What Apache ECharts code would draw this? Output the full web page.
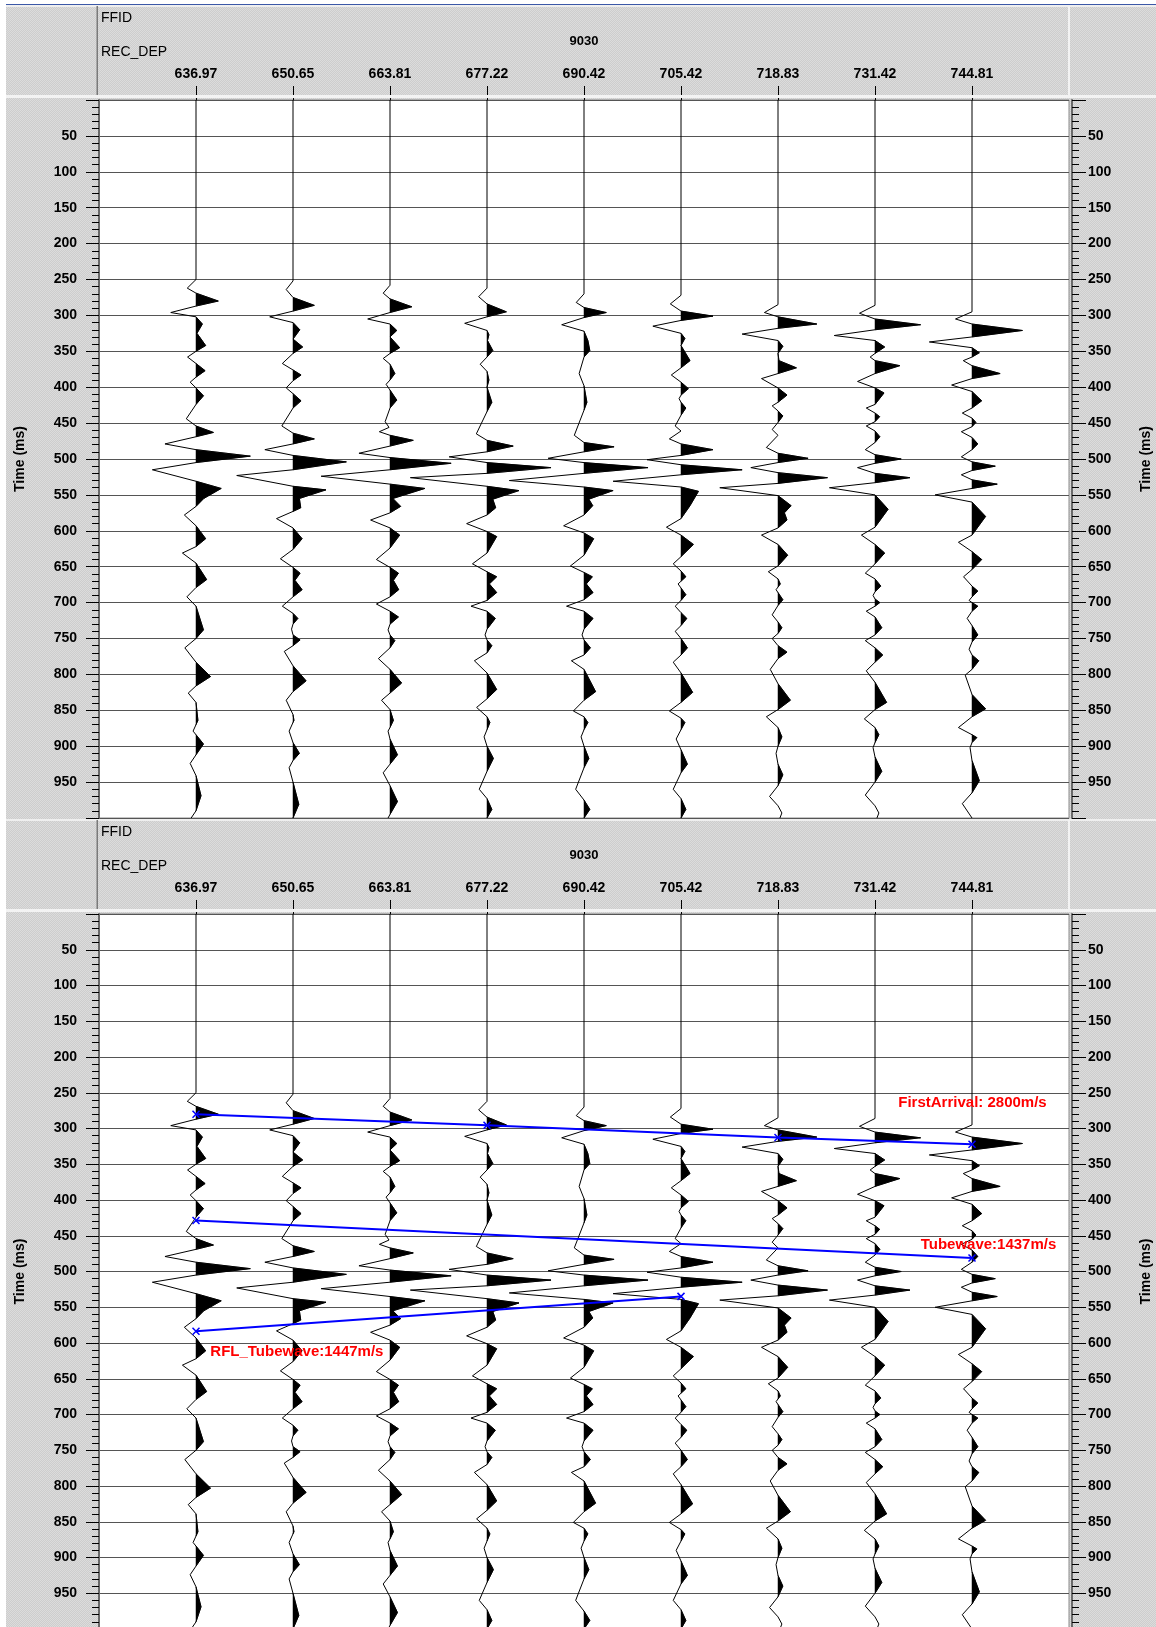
<!DOCTYPE html>
<html><head><meta charset="utf-8">
<script src="https://cdn.jsdelivr.net/npm/echarts@6/dist/echarts.min.js"></script>
<style>
html,body{margin:0;padding:0;background:#fff;}
#wrap{position:relative;width:1156px;height:1627px;overflow:hidden;background:#fff;}
#bg{position:absolute;left:6px;top:6px;right:0;bottom:0;background-color:#d5d5d5;background-image:repeating-conic-gradient(#cdcdcd 0 25%, #dcdcdc 0 50%);background-size:2px 2px;}
#chart{position:absolute;left:0;top:0;width:1156px;height:1627px;}
</style></head><body>
<div id="wrap"><div id="bg"></div><div id="chart"></div></div>
<script>
// ---------- DATA ----------
const ffidValue = '9030';
const headerNames = ['FFID', 'REC_DEP'];
const recDepth = ['636.97', '650.65', '663.81', '677.22', '690.42', '705.42', '718.83', '731.42', '744.81'];
const timeTicks = [50, 100, 150, 200, 250, 300, 350, 400, 450, 500, 550, 600, 650, 700, 750, 800, 850, 900, 950];

// traces: [time ms, amplitude in trace-spacing units]
const trace1 = [[0,0],[250,0],[262,-0.09],[269,0],[280,0.23],[287,0],[296,-0.26],[302,0],[312,0.066],[325,0.01],[342,0.1],[350,0],[358,-0.087],[367,0],[377,0.094],[386,0],[393,-0.06],[401,0],[412,0.077],[424,0],[444,-0.10],[454,0],[463,0.18],[469,0],[479,-0.32],[487,0],[496,0.56],[505,0],[515,-0.45],[531,0],[541,0.26],[555,0.08],[566,0],[578,-0.12],[593,0],[611,0.1],[622,0],[631,-0.14],[645,0],[668,0.11],[679,0],[692,-0.094],[705,0],[738,0.077],[750,0],[763,-0.115],[783,0],[803,0.15],[816,0],[826,-0.08],[839,0],[864,0.02],[879,-0.03],[897,0.077],[912,0],[924,-0.06],[941,0],[969,0.052],[990,0],[1000,-0.05]];
const trace2 = [[0,0],[252,0],[264,-0.07],[275,0],[286,0.22],[294,0],[302,-0.24],[310,0],[320,0.07],[333,0],[344,0.1],[353,0],[367,-0.11],[376,0],[383,0.083],[391,0],[401,-0.07],[409,0],[419,0.083],[429,0],[454,-0.115],[464,0],[472,0.22],[479,0],[487,-0.29],[495,0],[504,0.55],[515,0],[523,-0.58],[538,0],[543,0.34],[555,0.066],[568,0.08],[573,0],[583,-0.17],[596,0],[611,0.094],[626,0],[639,-0.13],[651,0],[659,0.073],[669,0.02],[682,0.094],[692,0],[705,-0.11],[715,0],[722,0.05],[730,0],[737,-0.015],[745,0],[752,0.073],[760,0],[768,-0.09],[788,0],[809,0.135],[824,0],[836,-0.07],[856,0],[864,0.01],[879,-0.04],[895,0],[910,0.066],[920,0],[930,-0.04],[950,0],[981,0.06],[1000,0]];
const trace3 = [[0,0],[258,0],[269,-0.07],[277,0],[288,0.225],[296,0],[305,-0.23],[312,0],[321,0.07],[330,0],[345,0.1],[353,0],[360,-0.07],[368,0],[381,0.05],[390,0],[396,-0.04],[404,0],[418,0.07],[429,0],[448,-0.05],[456,-0.01],[462,-0.11],[467,0],[474,0.24],[482,0],[492,-0.32],[498,0],[506,0.63],[515,0],[524,-0.71],[535,0],[541,0.36],[555,0.03],[566,0.11],[575,0],[585,-0.2],[596,0],[606,0.1],[624,0],[640,-0.14],[651,0],[659,0.087],[669,0.035],[682,0.09],[692,0],[702,-0.14],[712,0],[720,0.087],[730,0],[738,-0.02],[745,0],[753,0.05],[763,0],[778,-0.12],[793,0],[812,0.12],[826,0],[836,-0.087],[849,0],[864,0.035],[874,0],[879,-0.02],[890,0],[912,0.077],[925,0],[937,-0.07],[955,0],[977,0.077],[995,0],[1000,-0.02]];
const trace4 = [[0,0],[262,0],[274,-0.086],[284,0],[295,0.2],[302,0],[311,-0.23],[321,0],[327,0.02],[335,0.005],[349,0.06],[358,0],[368,-0.07],[378,0],[390,0.02],[400,0],[421,0.05],[434,0],[465,-0.11],[474,0],[482,0.27],[490,0],[497,-0.39],[505,0],[512,0.66],[520,0],[526,-0.79],[538,0],[544,0.33],[556,0.06],[568,0.09],[578,0],[590,-0.21],[601,0],[608,0.1],[631,0],[646,-0.15],[657,0],[664,0.1],[674,0.024],[686,0.1],[697,0],[705,-0.165],[712,0],[722,0.086],[737,0],[745,-0.02],[752,0],[760,0.05],[770,0],[781,-0.13],[798,0],[821,0.1],[834,0],[846,-0.107],[859,0],[867,0.03],[877,0],[887,-0.03],[900,0],[917,0.066],[935,0],[960,-0.08],[973,0],[988,0.05],[1000,0]];
const trace5 = [[0,0],[270,0],[282,-0.08],[289,0],[296,0.23],[303,0],[313,-0.23],[322,0],[335,0.04],[349,0.06],[358,0],[381,-0.05],[398,0],[421,0.03],[432,0],[467,-0.1],[477,0],[483,0.31],[490,0],[499,-0.37],[505,0],[512,0.66],[520,0],[530,-0.77],[539,0],[544,0.3],[556,0.05],[565,0.09],[578,0],[593,-0.21],[603,0],[611,0.1],[634,0],[649,-0.14],[658,0],[664,0.086],[674,0.024],[686,0.093],[696,0],[705,-0.18],[712,0],[722,0.093],[737,0],[745,-0.02],[752,0],[763,0.066],[773,0],[781,-0.13],[793,0],[824,0.12],[836,0],[851,-0.11],[859,0],[867,0.04],[877,0],[887,-0.03],[900,0],[917,0.05],[930,0],[960,-0.086],[975,0],[988,0.06],[1000,0]];
const trace6 = [[0,0],[272,0],[284,-0.11],[294,0],[301,0.33],[307,0],[315,-0.29],[325,0],[332,0.04],[342,0],[363,0.093],[373,0],[383,-0.1],[393,0],[402,0.076],[411,0],[416,-0.02],[421,0],[429,0.05],[439,0],[454,-0.06],[461,0],[472,-0.12],[479,0],[487,0.33],[495,0],[501,-0.35],[508,0],[515,0.63],[522,0],[531,-0.7],[539,0],[545,0.18],[565,0.093],[583,0],[595,-0.15],[606,0],[619,0.128],[636,0],[646,-0.08],[656,0],[664,0.05],[674,-0.03],[689,0.05],[697,0],[705,-0.06],[714,0],[722,0.06],[732,0],[740,-0.06],[750,0],[763,0.066],[773,0],[783,-0.08],[798,0],[825,0.12],[839,0],[851,-0.12],[861,0],[867,0.04],[877,0],[890,-0.05],[905,0],[925,0.066],[937,0],[960,-0.08],[973,0],[988,0.05],[1000,0]];
const trace7 = [[0,0],[285,0],[296,-0.14],[302,0],[312,0.40],[318,0],[326,-0.37],[335,0],[343,0.05],[353,0],[363,0.01],[373,0.19],[381,0],[388,-0.17],[401,0],[411,0.093],[421,0],[426,-0.06],[433,0],[440,0.05],[449,0],[459,-0.06],[467,0],[484,-0.12],[492,0],[499,0.31],[505,0],[512,-0.28],[519,0],[526,0.51],[534,0],[540,-0.6],[551,0],[565,0.135],[575,0.066],[585,0.093],[596,0],[606,-0.17],[619,0],[634,0.1],[649,0],[657,-0.1],[667,0],[674,0.024],[682,-0.02],[696,0.05],[704,0],[717,-0.06],[727,0],[735,0.04],[743,0],[750,-0.06],[760,0],[769,0.093],[778,0],[793,-0.08],[813,0],[836,0.128],[849,0],[859,-0.12],[874,0],[887,0.04],[900,0],[910,-0.02],[925,0],[940,0.05],[955,0],[970,-0.087],[983,0],[993,0.04],[1000,0.02]];
const trace8 = [[0,0],[286,0],[297,-0.16],[305,0],[313,0.47],[320,0],[328,-0.42],[335,0],[344,0.1],[353,0],[358,-0.05],[363,0],[370,0.256],[381,0],[392,-0.18],[401,0],[408,0.093],[424,0],[429,-0.09],[436,0],[441,0.048],[448,0],[454,-0.09],[461,0],[469,0.05],[477,0],[487,-0.1],[494,0],[500,0.27],[506,0],[512,-0.18],[520,0],[526,0.36],[533,0],[540,-0.47],[550,0],[570,0.135],[595,0],[606,-0.14],[619,0],[631,0.1],[646,0],[659,-0.1],[667,0],[677,0.06],[685,0],[690,-0.02],[695,0],[700,0.05],[705,0],[712,-0.09],[720,0],[735,0.07],[745,0],[753,-0.1],[763,0],[773,0.08],[783,0],[795,-0.09],[811,0],[839,0.12],[849,0],[862,-0.11],[874,0],[884,0.04],[895,0],[902,-0.02],[915,0],[935,0.07],[950,0],[968,-0.1],[983,0],[993,0.04],[1000,0.02]];
const trace9 = [[0,0],[295,0],[305,-0.17],[312,0],[321,0.52],[330,0],[337,-0.44],[345,0],[352,0.076],[358,0],[363,-0.09],[370,0],[381,0.29],[388,0],[397,-0.21],[406,0],[419,0.1],[429,0],[436,-0.1],[443,0],[449,0.04],[455,0],[462,-0.11],[470,0],[479,0.06],[487,0],[497,-0.11],[504,0],[510,0.24],[516,0],[522,-0.11],[529,0],[535,0.26],[541,0],[550,-0.38],[560,0],[580,0.14],[606,0],[616,-0.14],[629,0],[640,0.1],[654,0],[664,-0.087],[677,0],[684,0.06],[692,0],[697,-0.03],[700,0],[705,0.06],[712,0],[722,-0.05],[732,0],[745,0.06],[755,0],[765,-0.03],[773,0],[781,0.07],[793,0],[801,-0.07],[828,0],[848,0.14],[859,0],[874,-0.14],[884,0],[888,0.05],[895,0],[902,-0.02],[920,0],[948,0.076],[965,0],[980,-0.1],[1000,0]];

// picks (trace position, time ms) for the lower panel
const firstArrival = [[1, 280], [4, 295.5], [7, 312.5], [9, 322]];
const tubewave = [[1, 428.6], [9, 481]];
const rflTubewave = [[1, 583.5], [6, 534.8]];
const pickLabels = ['FirstArrival: 2800m/s', 'Tubewave:1437m/s', 'RFL_Tubewave:1447m/s'];
const pickLabelAnchors = [[9.005, 264], [9.17, 463], [2.04, 612]];

// ---------- CHART ----------
const traces = [trace1, trace2, trace3, trace4, trace5, trace6, trace7, trace8, trace9];
const FONT = '"Liberation Sans", Arial, Helvetica, sans-serif';
const gridTops = [100, 914];
const gridHeights = [718, 715];
const GL = 99, GW = 970;

function renderTrace(params, api) {
  const pos = api.value(0);
  const pts = traces[pos - 1];
  const line = [];
  const children = [];
  let lobe = null;
  for (let k = 0; k < pts.length; k++) {
    const t = pts[k][0], a = pts[k][1];
    const p = api.coord([pos + a, t]);
    line.push(p);
    if (k > 0) {
      const t0 = pts[k - 1][0], a0 = pts[k - 1][1];
      if (a0 <= 0 && a > 0) {
        const tc = t0 + (t - t0) * (0 - a0) / (a - a0);
        lobe = [api.coord([pos, tc])];
      }
      if (a > 0 && lobe) lobe.push(p);
      if (a0 > 0 && a <= 0 && lobe) {
        const tc2 = t0 + (t - t0) * a0 / (a0 - a);
        lobe.push(api.coord([pos, tc2]));
        children.push({type: 'polygon', shape: {points: lobe}, style: {fill: '#000', stroke: '#000', lineWidth: 0.5}});
        lobe = null;
      }
    }
  }
  children.push({type: 'polyline', shape: {points: line}, style: {stroke: '#000', lineWidth: 1, fill: null}});
  return {type: 'group', children: children};
}

const depthCats = [''].concat(recDepth, ['']);

function xVal(g) {
  return {type: 'value', gridIndex: g, min: 0, max: 10, show: false};
}
function xCat(g) {
  return {
    type: 'category', gridIndex: g, position: 'top', offset: 7, data: depthCats, boundaryGap: false,
    axisLine: {show: false},
    axisTick: {show: true, length: 14, interval: function (i, v) { return v !== ''; }, lineStyle: {color: '#000', width: 1}},
    axisLabel: {show: true, interval: 0, margin: 12, fontFamily: FONT, fontWeight: 'bold', fontSize: 14, color: '#000'},
    splitLine: {show: false}
  };
}
function yAx(g, pos) {
  const left = pos === 'left';
  return {
    type: 'value', gridIndex: g, inverse: true, min: 0, max: 1000, interval: 50, position: pos, offset: left ? 4 : 3,
    name: 'Time (ms)', nameLocation: 'middle', nameRotate: 90, nameGap: left ? 68 : 67,
    nameTextStyle: {fontFamily: FONT, fontWeight: 'bold', fontSize: 14, color: '#000'},
    axisLine: {show: true, lineStyle: {color: '#6a6a6a', width: 2}},
    axisTick: {show: true, length: left ? 13 : 14, lineStyle: {color: '#000', width: 1}},
    minorTick: {show: true, splitNumber: 5, length: 7, lineStyle: {color: '#000', width: 1}},
    axisLabel: {show: true, margin: left ? 18 : 16, fontFamily: FONT, fontWeight: 'bold', fontSize: 14, color: '#000',
      showMinLabel: false, showMaxLabel: false,
      formatter: function (v) { return timeTicks.indexOf(v) >= 0 ? String(v) : ''; }},
    splitLine: {show: left, lineStyle: {color: '#555', width: 1}},
    minorSplitLine: {show: false}
  };
}

const graphics = [
  {type: 'rect', shape: {x: 6, y: 4, width: 1150, height: 1.5}, style: {fill: '#3b58a8'}, z: 50}
];
for (let p = 0; p < 2; p++) {
  const T = gridTops[p];
  const H = T - 94;
  graphics.push(
    {type: 'rect', shape: {x: 6, y: T - 5, width: 1150, height: 3}, style: {fill: '#f3f3f3'}, z: 50},
    {type: 'rect', shape: {x: 6, y: H - 1, width: 1150, height: 2}, style: {fill: '#efefef'}, z: 50},
    {type: 'rect', shape: {x: 96.5, y: H, width: 1.5, height: T - 5 - H}, style: {fill: '#7a7a7a'}, z: 50},
    {type: 'rect', shape: {x: 1068, y: H, width: 2, height: T - 5 - H}, style: {fill: '#f3f3f3'}, z: 50},
    {type: 'text', x: 101, y: T - 82, style: {text: headerNames[0], font: '14px ' + FONT, fill: '#000', verticalAlign: 'middle'}, z: 60},
    {type: 'text', x: 101, y: T - 48, style: {text: headerNames[1], font: '14px ' + FONT, fill: '#000', verticalAlign: 'middle'}, z: 60},
    {type: 'text', x: GL + GW / 2, y: T - 59, style: {text: ffidValue, font: 'bold 13px ' + FONT, fill: '#000', align: 'center', verticalAlign: 'middle'}, z: 60}
  );
}

const xSymbol = 'path://M0,0L10,10M10,0L0,10';
function pickLine(data) {
  return {
    type: 'line', xAxisIndex: 2, yAxisIndex: 2, data: data, symbol: xSymbol, symbolSize: 7, showSymbol: true,
    lineStyle: {color: '#0000ff', width: 2}, itemStyle: {color: '#0000ff', borderColor: '#0000ff', borderWidth: 1.5},
    z: 5, silent: true, animation: false
  };
}

const gridBase = {left: GL, width: GW, show: true, backgroundColor: '#fff', borderColor: '#8a8a8a', borderWidth: 1,
  containLabel: false, outerBoundsMode: 'none'};
const option = {
  animation: false,
  backgroundColor: 'transparent',
  grid: [
    Object.assign({}, gridBase, {top: gridTops[0], height: gridHeights[0]}),
    Object.assign({}, gridBase, {top: gridTops[1], height: gridHeights[1]})
  ],
  xAxis: [xVal(0), xCat(0), xVal(1), xCat(1)],
  yAxis: [yAx(0, 'left'), yAx(0, 'right'), yAx(1, 'left'), yAx(1, 'right')],
  graphic: graphics,
  series: [
    {type: 'custom', xAxisIndex: 0, yAxisIndex: 0, data: traces.map((d, i) => [i + 1, 0]), renderItem: renderTrace, clip: true, silent: true, z: 3},
    {type: 'custom', xAxisIndex: 2, yAxisIndex: 2, data: traces.map((d, i) => [i + 1, 0]), renderItem: renderTrace, clip: true, silent: true, z: 3},
    pickLine(firstArrival),
    pickLine(tubewave),
    pickLine(rflTubewave),
    {
      type: 'scatter', xAxisIndex: 2, yAxisIndex: 2, symbolSize: 1, itemStyle: {color: 'rgba(0,0,0,0)', opacity: 1}, silent: true, z: 6,
      data: pickLabelAnchors.map((a, i) => [a[0], a[1], pickLabels[i]]),
      label: {show: true, position: 'inside', formatter: function (p) { return p.value[2]; },
        color: '#ff0000', fontFamily: FONT, fontWeight: 'bold', fontSize: 15}
    }
  ]
};

const chart = echarts.init(document.getElementById('chart'), null, {renderer: 'canvas'});
chart.setOption(option);
</script>
</body></html>
